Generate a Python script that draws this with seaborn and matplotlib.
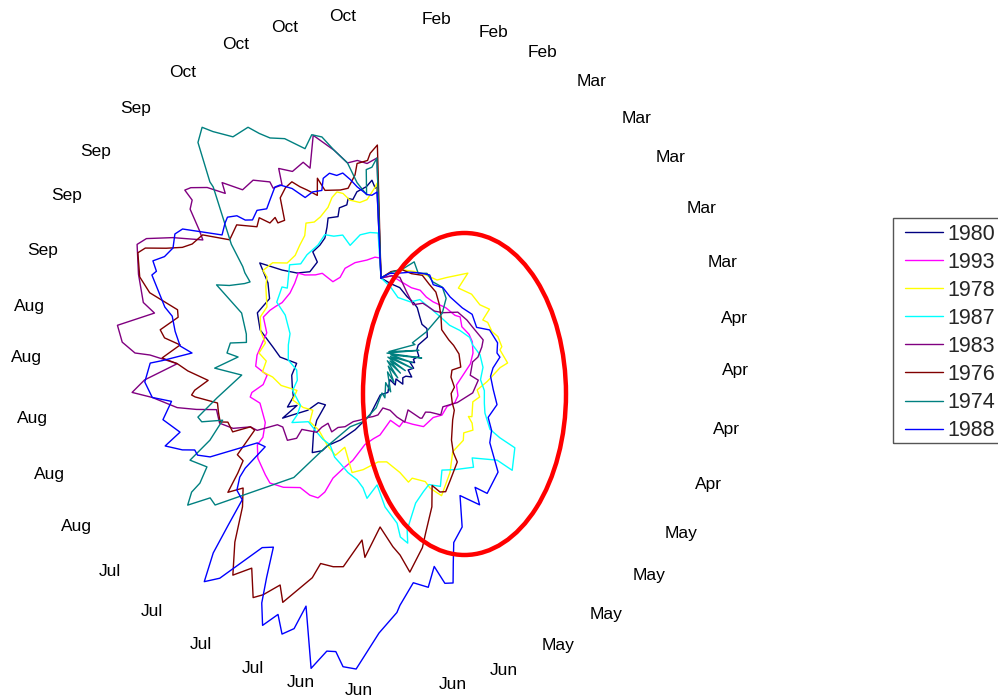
import numpy as np
import pandas as pd
import matplotlib
matplotlib.use("Agg")
import matplotlib.pyplot as plt
import seaborn as sns
from matplotlib.patches import Ellipse, Rectangle
from matplotlib.lines import Line2D

sns.set_style("white")
plt.rcParams["font.family"] = ["Liberation Sans", "DejaVu Sans"]

years = ["1980", "1993", "1978", "1987", "1983", "1976", "1974", "1988"]
colors = ["#000080", "#FF00FF", "#FFFF00", "#00FFFF",
          "#800080", "#800000", "#008080", "#0000FF"]

# observations per season: [season position in degrees from 1 Feb (clockwise), extent index]
obs_1980 = [[0, 75], [8, 70], [16, 68], [25, 62], [33, 60], [38.7, 58], [47, 53], [55, 50], [62, 52],
            [71, 49], [78, 38], [85, 36], [95, 38], [101, 33], [106, 35], [107, 30], [115, 36], [122, 32],
            [128, 39], [133, 34], [138.7, 33], [145, 38], [150, 30], [156, 35], [161.6, 28], [170, 40],
            [181, 42], [190, 63], [198.6, 81], [205, 96], [210, 107], [211, 114], [214.6, 121], [220, 105],
            [223.7, 93], [227, 76], [231.6, 80], [232, 93], [235, 108], [236.5, 118], [238, 99], [240, 108],
            [243.4, 98], [249, 95], [256, 92], [263, 85], [267.7, 101], [273, 108], [280.8, 123], [288, 130],
            [296, 124], [301.8, 133], [306.6, 151], [310, 129], [313.6, 116], [318.8, 108], [325, 111],
            [326, 122], [330.5, 124], [334, 128], [336.8, 137], [338.6, 145], [342.5, 143], [344, 151],
            [347, 152], [348, 158], [349.6, 156], [351.5, 163], [355, 167], [357, 173], [358, 165], [358.6, 166]]
obs_1993 = [[0, 75], [8, 78], [16, 74], [25, 72], [32, 74], [39, 72], [45.5, 73], [55, 79], [63, 83],
            [65.5, 87], [72, 85], [78, 90], [83, 92], [90, 92], [97, 90], [105, 85], [113, 82], [119, 88],
            [124, 89], [129, 85], [135.5, 87], [141, 83], [150, 85], [156, 78], [162, 72], [166, 76],
            [172, 68], [180.7, 82], [185, 86], [190, 93], [194.7, 111], [198, 121], [201, 134], [202, 150],
            [203.5, 158], [206.6, 159], [211, 157], [216, 166], [220.5, 171], [223.5, 168], [229.5, 162],
            [233.4, 154], [234.5, 145], [239, 135], [247.5, 131], [251.4, 138], [253, 135], [255, 122],
            [259, 116], [264, 126], [269, 124], [275, 119], [280, 116], [287, 123], [291, 119], [294, 115],
            [297, 111], [303.4, 109], [309, 111], [314, 115], [315.7, 109], [320, 102], [323.6, 99],
            [326, 86], [331.6, 86], [337, 92], [344, 94], [351.4, 94], [356.4, 96], [359.4, 95]]
obs_1978 = [[0, 75], [8, 82], [15, 86], [22, 88], [30, 90], [37.5, 92], [41, 100], [47.4, 118], [50, 101],
            [57, 108], [64, 110], [68, 117], [72, 107], [74, 111], [79, 113], [82, 118], [87, 121],
            [88.5, 119], [94.5, 127], [97, 120], [105, 110], [111, 103], [114, 108], [118, 104], [125, 111],
            [126, 108], [127.6, 115], [130, 120], [134, 115], [136.7, 120], [144, 122], [150, 138],
            [157, 155], [160, 144], [161, 136], [166, 129], [168, 132], [171, 121], [177, 109], [181.6, 109],
            [188.7, 118], [193.6, 123], [195, 118], [201, 101], [204, 112], [210, 107], [219, 99], [226, 99],
            [230, 89], [235, 95], [242, 100], [246, 92], [252, 105], [257.5, 111], [261, 120], [266, 115],
            [270, 122], [275, 116], [280, 122], [286.6, 126], [292, 123], [300, 133], [303.7, 137],
            [305, 144], [309.8, 141], [313.8, 130], [318.7, 130], [323, 135], [327, 140], [330, 150],
            [333, 147], [336, 149], [340, 155], [342.5, 163], [344.7, 167], [346.6, 164], [348.5, 156],
            [352, 152], [354.8, 154], [358, 166], [358.7, 170]]
obs_1987 = [[0, 75], [8, 67], [17, 58], [30, 59], [36, 66], [50, 67], [60, 70], [68, 74], [74, 82],
            [80, 90], [85, 92], [91, 99], [98, 103], [105, 103], [110, 110], [116, 115], [120, 120],
            [125, 133], [125.5, 146], [125.3, 164], [131.8, 176], [132.7, 158], [139, 139], [141, 147],
            [147.7, 138], [152.5, 132], [156, 146], [160, 140], [163, 145], [167, 154], [171.6, 179],
            [172, 192], [174, 185], [174.6, 171], [178.5, 154], [181.7, 132], [185.5, 146], [187.6, 136],
            [190.7, 129], [195.5, 124], [200, 118], [204, 114], [209, 105], [214, 104], [219, 102],
            [226.6, 100], [232, 113], [233.6, 104], [237, 96], [247, 96], [252, 88], [258.6, 86],
            [265.7, 93], [275, 93], [282, 93], [291.6, 103], [296, 116], [303.7, 119], [304.7, 114],
            [314, 127], [318, 120], [323, 123], [329.7, 125], [334.6, 131], [338, 126], [342, 124],
            [344, 112], [350, 120], [354.8, 121], [358.6, 120]]
obs_1983 = [[0, 75], [8, 78], [14, 78], [23, 66], [33.7, 58], [40, 65], [45, 66], [52, 68], [57, 74],
            [62, 87], [69, 92], [74, 95], [82.7, 103], [86.6, 101], [92.4, 97], [95.6, 92], [104, 92],
            [105.6, 101], [113.5, 100], [123, 91], [131, 82], [136, 86], [140.3, 77], [143, 74], [147.8, 77],
            [149, 76], [154.6, 63], [161, 73], [166, 66], [171, 58], [178, 55], [182.8, 62], [187, 64],
            [193.8, 67], [197, 70], [202, 74], [206, 82], [210, 86], [212, 93], [217, 88], [218.6, 95],
            [219, 102], [226, 110], [224.7, 120], [227, 128], [233, 123], [235.3, 126], [238, 146],
            [240.5, 150], [243, 166], [246.5, 176], [251, 174], [253, 193], [255, 211], [259, 233],
            [261, 252], [263.5, 238], [265, 222], [267, 204], [269.5, 231], [270, 246], [272.4, 259],
            [276, 265], [280, 230], [282, 243], [288, 255], [294, 267], [296, 261], [299, 238], [302.4, 211],
            [304, 219], [307, 239], [309, 243], [309.7, 255], [311, 252], [313.6, 240], [315.7, 223],
            [317, 233], [319.7, 214], [323.5, 215], [327, 204], [326.8, 197], [329.5, 195], [331, 211],
            [334, 202], [337.8, 206], [339, 198], [342.7, 228], [347, 208], [350, 193], [353, 194],
            [355.8, 190], [358.8, 195]]
obs_1976 = [[0, 75], [7, 82], [14, 86], [21, 85], [28, 88], [35, 84], [42, 82], [50, 76], [59, 70],
            [69, 65], [79, 69], [84, 73], [90.7, 78], [100, 81], [103.5, 73], [109, 74], [115, 81],
            [120, 81], [125, 87], [128, 93], [133, 98], [141, 112], [144, 123], [145, 133], [151.5, 145],
            [155, 153], [157, 151], [158.9, 142], [161.7, 162], [166, 185], [168, 199], [172.5, 221],
            [174.6, 203], [176.5, 194], [180.3, 174], [184.5, 205], [185.8, 188], [188, 202], [190, 217],
            [192.6, 219], [196, 219], [197, 235], [201.5, 268], [203.5, 253], [206, 269], [207.6, 276],
            [211, 251], [213.7, 267], [217.7, 239], [222, 207], [225.6, 193], [227.7, 207], [230, 187],
            [232, 175], [234.7, 176], [238.6, 148], [240.5, 150], [242, 168], [245.7, 168], [246.8, 175],
            [250, 173], [253, 171], [256.7, 191], [257.5, 194], [258.7, 190], [261, 175], [264.7, 194],
            [267, 204], [268.7, 219], [272.3, 201], [274, 217], [276, 222], [280, 206], [282, 208],
            [284.6, 239], [287.5, 253], [292.4, 263], [294, 258], [296, 239], [298, 225], [300, 218],
            [303.5, 214], [306.8, 189], [311.6, 193], [315.5, 177], [318, 182], [319.5, 171], [322, 172],
            [321.6, 166], [324, 164], [327, 185], [330, 191], [332.5, 193], [334, 185], [335.6, 179],
            [338, 170], [340, 186], [341, 172], [346, 168], [348.7, 168], [351.7, 180], [352.8, 191],
            [356, 193], [356.9, 200], [359, 208]]
obs_1974 = [[0, 75], [8, 82], [14, 86], [20, 97], [25, 88], [30, 92], [36, 88], [43, 90], [50, 85],
            [57, 73], [65, 50], [72, 33], [76, 35], [80, 8], [86, 38], [91, 6], [97, 41], [101, 10],
            [107, 33], [111, 10], [116, 35], [121, 8], [126, 30], [131, 12], [136, 28], [141, 10],
            [146, 30], [151, 15], [156, 32], [161, 20], [166, 40], [171, 30], [175, 45], [178.6, 40],
            [185, 55], [194.6, 71], [202.7, 80], [211, 113], [215, 152], [227.5, 225], [229.7, 224],
            [231.8, 246], [233.7, 235], [234.3, 223], [236.8, 208], [240.7, 219], [243, 192], [247, 172],
            [249, 192], [250.7, 194], [254.7, 170], [261, 141], [264.8, 167], [268.4, 143], [270, 154],
            [273.8, 151], [274.5, 135], [278, 136], [286, 145], [292.5, 178], [294, 166], [297, 153],
            [298.5, 149], [300.5, 158], [302, 163], [306, 185], [314.7, 236], [315, 242], [319, 279],
            [321.6, 288], [322.8, 278], [325.6, 262], [329.5, 262], [331, 251], [332.7, 242], [335.8, 235],
            [339.6, 218], [342.4, 229], [344.7, 224], [347, 208], [350, 193], [352, 172], [354.8, 159],
            [355.4, 184], [357.2, 186], [358.8, 195]]
obs_1988 = [[0, 75], [6, 80], [13, 82], [20, 86], [26, 89], [32, 92], [37.4, 86], [43.6, 90], [51, 89],
            [61, 93], [67, 99], [75, 99], [78, 111], [85, 117], [90, 116], [92, 119], [97.6, 113],
            [102, 112], [108, 118], [114, 127], [121, 125], [125, 135], [129.5, 141], [135.5, 167],
            [142.9, 176], [145, 164], [147, 181], [151, 163], [155, 192], [159, 203], [161, 222],
            [162.6, 241], [164.5, 239], [166, 220], [168.6, 239], [172, 232], [175.7, 253], [176.5, 260],
            [180.4, 280], [184.5, 317], [186.9, 316], [188.6, 302], [190.3, 303], [192.5, 323],
            [196.5, 264], [197.5, 289], [199.4, 298], [201.5, 281], [203.5, 297], [205.5, 277], [207, 252],
            [209, 222], [211.4, 228], [215.6, 277], [217.7, 289], [220, 261], [221.6, 230], [223.4, 202],
            [226.4, 199], [228.7, 188], [229.7, 178], [231, 149], [234, 153], [238.7, 200], [240.9, 210],
            [242.5, 210], [244, 221], [246.7, 235], [248.5, 216], [253, 228], [257, 215], [259, 233],
            [263, 238], [267.5, 231], [268, 219], [270, 189], [272, 201], [276, 207], [280, 212],
            [282, 221], [288.8, 242], [290, 239], [292, 246], [294, 237], [296.8, 233], [300, 238],
            [302, 234], [306.6, 198], [309.8, 203], [311.5, 205], [313.6, 199], [314.4, 190], [316, 185],
            [319, 189], [321.6, 184], [324, 189], [327.4, 197], [329, 196], [331.6, 187], [334, 173],
            [337, 175], [340, 173], [341.7, 184], [344, 187], [346, 183], [348, 184], [350, 176],
            [351.8, 168], [355, 159], [356.7, 158], [358.6, 161]]

series = [obs_1980, obs_1993, obs_1978, obs_1987, obs_1983, obs_1976, obs_1974, obs_1988]

# month ticks around the rim
tick_deg = [9.5, 19.3, 28.3, 37.8, 47.5, 56.0, 65.7, 75.1, 84.4, 92.9, 102.5, 111.9,
            121.0, 129.7, 139.2, 148.8, 158.8, 167.8, 183.8, 193.6, 202.1, 211.7, 221.6, 231.2,
            240.4, 249.9, 259.4, 269.2, 277.6, 286.9, 296.6, 305.2, 314.9, 324.7, 334.7, 343.5, 353.5]
tick_lab = ["Feb", "Feb", "Feb", "Mar", "Mar", "Mar", "Mar", "Mar", "Apr", "Apr", "Apr", "Apr",
            "May", "May", "May", "May", "Jun", "Jun", "Jun", "Jun", "Jul", "Jul", "Jul", "Jul",
            "Aug", "Aug", "Aug", "Aug", "Aug", "Sep", "Sep", "Sep", "Sep", "Oct", "Oct", "Oct", "Oct"]

frames = []
for yr, obs in zip(years, series):
    a = np.asarray(obs, dtype=float)
    theta = np.r_[a[:, 0], 360.0]
    r = np.r_[a[:, 1], a[0, 1]]          # close the loop back to the February start
    frames.append(pd.DataFrame({"year": yr, "theta": np.deg2rad(theta), "r": r}))
df = pd.concat(frames, ignore_index=True)

W, H = 998, 696
fig = plt.figure(figsize=(W / 100, H / 100), dpi=100)
cx, cy, R = 381, 353, 360
ax = fig.add_axes([(cx - R) / W, (H - cy - R) / H, 2 * R / W, 2 * R / H], projection="polar")
ax.set_theta_zero_location("N")
ax.set_theta_direction(-1)

sns.lineplot(data=df, x="theta", y="r", hue="year", hue_order=years,
             palette=dict(zip(years, colors)), units="year", estimator=None,
             sort=False, linewidth=1.0, legend=False, ax=ax)
ax.set_ylim(0, R)
ax.axis("off")

# labels sit on a slightly wide ellipse
a_lab, b_lab = 355, 338
for t, lab in zip(tick_deg, tick_lab):
    tr = np.deg2rad(t)
    rr = 1.0 / np.sqrt((np.sin(tr) / a_lab) ** 2 + (np.cos(tr) / b_lab) ** 2)
    ax.text(tr, rr, lab, ha="center", va="center", fontsize=12.5, color="black")

# legend box (runs off the right edge of the figure)
fig.add_artist(Rectangle((893 / W, 1 - 443 / H), 130 / W, 225 / H, transform=fig.transFigure,
                         fill=False, edgecolor="#555555", lw=1.0))
handles = [Line2D([0], [0], color=c, lw=1.0) for c in colors]
fig.legend(handles, years, loc="upper left",
           bbox_to_anchor=(905 / W, 1 - 223.5 / H), bbox_transform=fig.transFigure,
           borderaxespad=0, borderpad=0, frameon=False, fontsize=15.5,
           handlelength=1.76, handletextpad=0.23, labelspacing=0.33)

fig.add_artist(Ellipse((464.5 / W, 1 - 394 / H), 203 / W, 322 / H,
                       transform=fig.transFigure, fill=False, edgecolor="red", lw=3.2))

fig.savefig("out.png", dpi=100)
